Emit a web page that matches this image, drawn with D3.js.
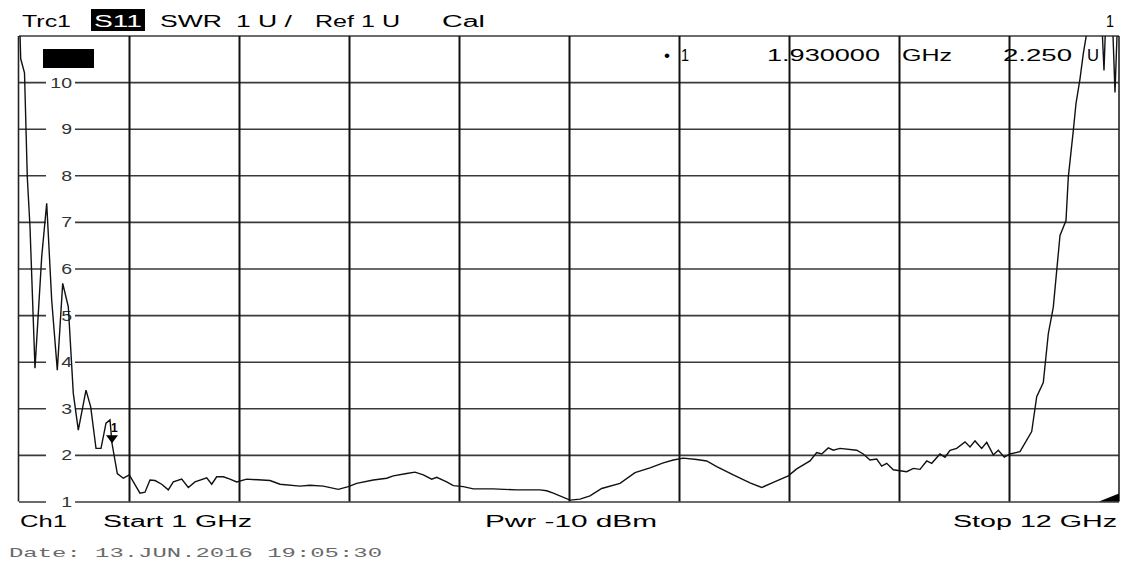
<!DOCTYPE html>
<html><head><meta charset="utf-8">
<script src="https://cdn.jsdelivr.net/npm/d3@7"></script>
<style>html,body{margin:0;padding:0;background:#fff;}svg{display:block;}</style>
</head><body>
<svg id="c" width="1122" height="567"></svg>
<script>
// ---- data ----
const freqGHz = [1.00,1.017,1.055,1.083,1.11,1.16,1.227,1.277,1.327,1.383,1.437,1.493,1.543,1.593,1.67,1.717,1.77,1.82,1.87,1.91,1.93,1.983,2.043,2.103,2.21,2.26,2.31,2.36,2.427,2.493,2.543,2.627,2.693,2.76,2.877,2.927,2.977,3.043,3.11,3.177,3.277,3.51,3.61,3.81,3.91,4.043,4.193,4.293,4.377,4.543,4.677,4.743,4.877,4.96,5.043,5.127,5.177,5.277,5.343,5.443,5.543,5.743,5.977,6.21,6.277,6.343,6.51,6.61,6.71,6.827,7.01,7.16,7.31,7.443,7.543,7.643,7.777,7.877,7.977,8.143,8.31,8.427,8.543,8.693,8.777,8.91,8.977,9.027,9.093,9.143,9.21,9.377,9.443,9.51,9.577,9.627,9.677,9.743,9.877,9.943,10.01,10.077,10.127,10.21,10.26,10.31,10.377,10.46,10.51,10.56,10.627,10.677,10.743,10.793,10.853,10.91,11.01,11.127,11.177,11.243,11.293,11.343,11.41,11.47,11.493,11.543,11.57,11.61,11.643,11.67,11.71,11.81,11.83,11.85,11.87,11.92,11.94,11.96,11.98,12.0];
const swr = [11.8,10.5,10.2,7.96,6.89,3.86,6.25,7.40,5.32,3.82,5.68,5.18,3.32,2.53,3.39,3.03,2.14,2.14,2.68,2.75,2.25,1.60,1.50,1.57,1.18,1.20,1.46,1.45,1.37,1.25,1.42,1.48,1.30,1.42,1.51,1.37,1.53,1.53,1.48,1.42,1.48,1.45,1.37,1.33,1.35,1.33,1.26,1.32,1.39,1.46,1.50,1.55,1.60,1.63,1.57,1.48,1.52,1.42,1.34,1.32,1.27,1.27,1.25,1.25,1.23,1.18,1.03,1.05,1.12,1.28,1.39,1.62,1.72,1.83,1.89,1.93,1.90,1.87,1.75,1.57,1.40,1.30,1.41,1.55,1.70,1.87,2.05,2.02,2.15,2.10,2.14,2.10,2.02,1.89,1.91,1.76,1.82,1.68,1.64,1.71,1.69,1.87,1.82,2.02,1.95,2.10,2.14,2.28,2.17,2.30,2.14,2.27,2.00,2.10,1.95,2.02,2.07,2.50,3.25,3.55,4.60,5.17,6.71,7.03,7.96,8.96,9.54,10.07,10.61,10.96,11.8,11.8,11.2,10.25,11.5,11.8,11.0,9.78,11.0,11.8];
const xGridGHz = [2.1,3.2,4.3,5.4,6.5,7.6,8.7,9.8,10.9];
const yTicks = [1,2,3,4,5,6,7,8,9,10];
const yTickLabels = ["1","2","3","4","5","6","7","8","9","10"];
const marker = {label:"1", freq:1.93, value:2.25};
const headerTexts = ["Trc1","S11","SWR","1 U /","Ref 1 U","Cal","1"];
const markerTexts = ["\u2022","1","1.930000","GHz","2.250","U"];
const footerTexts = ["Ch1","Start  1 GHz","Pwr  -10 dBm","Stop  12 GHz"];
const dateText = "Date: 13.JUN.2016  19:05:30";

// ---- layout ----
const svg = d3.select("#c");
const L = 19, R = 1119, T = 36, B = 501.5;
const x = d3.scaleLinear().domain([1,12]).range([L,R]);
const y = d3.scaleLinear().domain([1,11]).range([B,T-0.5]);
const FONT = "'Liberation Sans', Arial, sans-serif";

// clip
svg.append("defs").append("clipPath").attr("id","plot")
  .append("rect").attr("x",L).attr("y",T).attr("width",R-L).attr("height",B-T);

// horizontal grid via axis
const gy = svg.append("g").attr("transform",`translate(${L},0)`)
  .call(d3.axisLeft(y).tickValues(yTicks.concat([11])).tickSize(-(R-L)).tickFormat(""));
gy.select(".domain").remove();
gy.selectAll("line").attr("stroke","#3a3a3a").attr("stroke-width",1.6);

// vertical grid via axis
const gx = svg.append("g").attr("transform",`translate(0,${B})`)
  .call(d3.axisBottom(x).tickValues(xGridGHz).tickSize(-(B-T)).tickFormat(""));
gx.select(".domain").remove();
gx.selectAll("line").attr("stroke","#111").attr("stroke-width",2);

// frame
svg.append("line").attr("x1",L-0.5).attr("x2",L-0.5).attr("y1",T).attr("y2",B).attr("stroke","#222").attr("stroke-width",1.6);
svg.append("line").attr("x1",R).attr("x2",R).attr("y1",T).attr("y2",B).attr("stroke","#222").attr("stroke-width",1.6);

// y tick labels with white background
const yl = svg.append("g");
yTicks.forEach((v,i)=>{
  const g = yl.append("g").attr("transform",`translate(0,${y(v)})`);
  g.append("rect").attr("x",46).attr("y",-4).attr("width",29).attr("height",8).attr("fill","#fff");
  g.append("text").attr("transform","translate(72,5.5) scale(1.3,1)")
    .attr("text-anchor","end").attr("font-family",FONT).attr("font-size",15).attr("fill","#333")
    .text(yTickLabels[i]);
});

// black rect top-left
svg.append("rect").attr("x",43).attr("y",49).attr("width",51).attr("height",19).attr("fill","#000");

// trace
const line = d3.line().x((d,i)=>x(freqGHz[i])).y(d=>y(d));
svg.append("path").datum(swr).attr("clip-path","url(#plot)")
  .attr("d",line).attr("fill","none").attr("stroke","#111").attr("stroke-width",1.4).attr("stroke-linejoin","miter");

// marker
const mx = x(marker.freq), my = y(marker.value);
svg.append("path").attr("d",`M${mx-6},${my-8}L${mx+6},${my-8}L${mx},${my}Z`).attr("fill","#000");
svg.append("text").attr("x",mx-1).attr("y",my-11).attr("font-family",FONT).attr("font-weight","bold")
  .attr("font-size",12).attr("fill","#000").text(marker.label);

// bottom-right wedge
svg.append("path").attr("d",`M${R-20},${B}L${R},${B}L${R},${B-8}Z`).attr("fill","#000");

// text helper with exact span
function txt(s, x0, x1, yb, size, opts={}){
  const t = svg.append("text").attr("x",x0).attr("y",yb).attr("font-family",opts.family||FONT)
    .attr("font-size",size).attr("fill",opts.fill||"#000").text(s);
  if (x1) t.attr("textLength",x1-x0).attr("lengthAdjust","spacingAndGlyphs");
  return t;
}
// header
txt(headerTexts[0],22,71,27,16);
svg.append("rect").attr("x",91).attr("y",9).attr("width",54).attr("height",22).attr("fill","#000");
txt(headerTexts[1],94,142,27,16,{fill:"#fff"});
txt(headerTexts[2],160,222,27,16);
txt(headerTexts[3],236,292,27,16);
txt(headerTexts[4],315,400,27,16);
txt(headerTexts[5],442,485,27,16);
txt(headerTexts[6],1106,1114,27,16);
// marker info
txt(markerTexts[0],664,670,61,16);
txt(markerTexts[1],681,689,61,17);
txt(markerTexts[2],767,880,61,17);
txt(markerTexts[3],902,952,61,17);
txt(markerTexts[4],1003,1072,61,17);
txt(markerTexts[5],1087,1099,61,17);
// footer
txt(footerTexts[0],20,67,527,16);
txt(footerTexts[1],103,252,527,16);
txt(footerTexts[2],485,657,527,16);
txt(footerTexts[3],953,1117,527,16);
txt(dateText,9,382,557,13,{family:"'Liberation Mono', 'DejaVu Sans Mono', monospace",fill:"#6a6a6a"});
</script>
</body></html>
